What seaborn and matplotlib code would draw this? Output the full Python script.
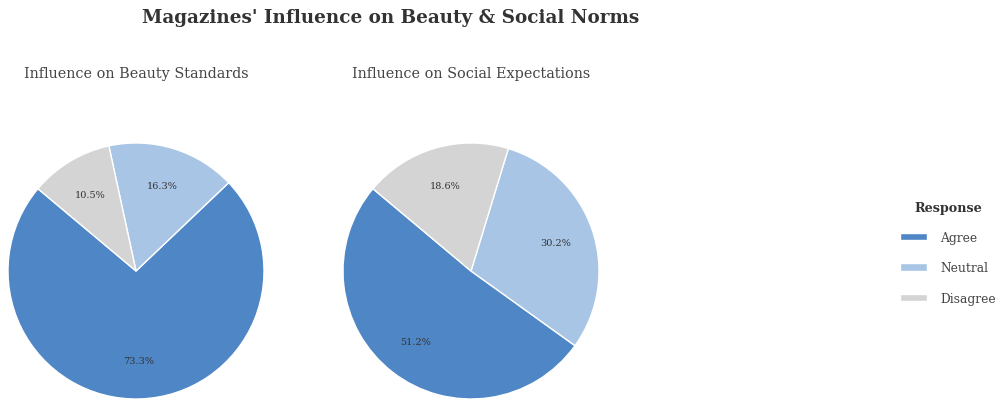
import matplotlib
matplotlib.use("Agg")
import matplotlib.pyplot as plt
import seaborn as sns

# Survey responses (percent)
responses = ["Agree", "Neutral", "Disagree"]
beauty_standards = [73.3, 16.3, 10.5]
social_expectations = [51.2, 30.2, 18.6]
panel_titles = ["Influence on Beauty Standards", "Influence on Social Expectations"]
colors = ["#4f86c6", "#a8c5e6", "#d4d4d4"]

sns.set_theme(style="white")
plt.rcParams["font.family"] = ["DejaVu Serif"]

W, H = 998, 402
fig = plt.figure(figsize=(W / 100, H / 100), dpi=100)
fig.patch.set_facecolor("white")

fig.text(391 / W, 1 - 18 / H, "Magazines' Influence on Beauty & Social Norms",
         ha="center", va="center", fontsize=13.2, fontweight="bold", color="#333333")


def value_labels(vals):
    # label each wedge with its stated value rather than a renormalised share
    it = iter(vals)
    return lambda _pct: f"{next(it):.1f}%"


centers = [(136, 272), (471, 272)]
radius_px = 128
wedge_sets = []
for (cx, cy), vals, title in zip(centers, [beauty_standards, social_expectations], panel_titles):
    ax = fig.add_axes([(cx - radius_px) / W, (H - cy - radius_px) / H,
                       2 * radius_px / W, 2 * radius_px / H])
    wedges, _, autotexts = ax.pie(
        vals, colors=colors, startangle=140, counterclock=True,
        autopct=value_labels(vals), pctdistance=0.7,
        wedgeprops=dict(edgecolor="white", linewidth=1),
        textprops=dict(fontsize=7, color="#333333"),
    )
    ax.set_xlim(-1, 1)
    ax.set_ylim(-1, 1)
    ax.set_aspect("auto")
    ax.axis("off")
    for w in wedges:
        w.set_clip_on(False)
    wedge_sets.append(wedges)
    fig.text(cx / W, 1 - 74 / H, title, ha="center", va="center",
             fontsize=10.4, color="#444444")

leg = fig.legend(wedge_sets[0], responses, title="Response",
                 loc="center", bbox_to_anchor=(948 / W, 1 - 254 / H),
                 frameon=False, fontsize=8.8, title_fontsize=9.2,
                 labelspacing=1.45, handlelength=2.2, handleheight=0.55,
                 handletextpad=1.1)
leg.get_title().set_fontweight("bold")
leg.get_title().set_color("#333333")
for t in leg.get_texts():
    t.set_color("#444444")
leg._legend_box.sep = 12

fig.savefig("out.png", dpi=100, facecolor="white")
